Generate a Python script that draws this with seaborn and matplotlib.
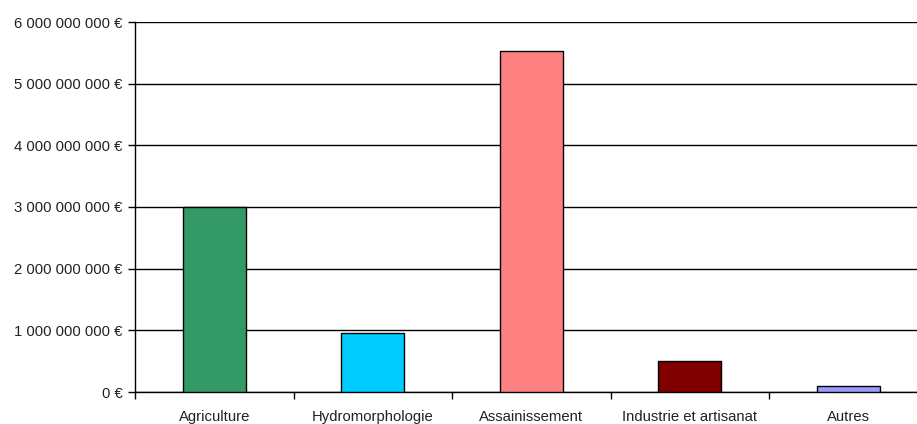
import matplotlib.pyplot as plt
import matplotlib.ticker as mticker
import pandas as pd
import seaborn as sns

categories = ["Agriculture", "Hydromorphologie", "Assainissement", "Industrie et artisanat", "Autres"]
montants = [3.0e9, 0.95e9, 5.53e9, 0.5e9, 0.1e9]
couleurs = ["#339966", "#00CCFF", "#FF8080", "#800000", "#9999FF"]

df = pd.DataFrame({"categorie": categories, "montant": montants})

sns.set_theme(style="white")
plt.rcParams["font.family"] = ["Liberation Sans", "DejaVu Sans"]

fig = plt.figure(figsize=(9.17, 4.24), dpi=100)
ax = fig.add_axes([135 / 917, 32 / 424, 792.5 / 917, 370 / 424])

sns.barplot(data=df, x="categorie", y="montant", hue="categorie", palette=couleurs,
            saturation=1, width=0.4, edgecolor="black", linewidth=1, legend=False,
            ax=ax, zorder=3)

ax.set_xlim(-0.5, 4.5)
ax.set_ylim(0, 6e9)
ax.set_yticks([i * 1e9 for i in range(7)])


def fmt_euro(v, pos):
    return f"{int(round(v)):,} €".replace(",", " ")


ax.yaxis.set_major_formatter(mticker.FuncFormatter(fmt_euro))
ax.yaxis.grid(True, color="black", linewidth=1)
ax.set_axisbelow(True)

# ticks aux frontieres des categories
ax.set_xticks([i - 0.5 for i in range(6)], minor=True)
ax.set_xticks(range(5))
ax.set_xticklabels(categories)
ax.tick_params(axis="x", which="major", length=0, pad=13, labelsize=10.7, labelcolor="#222222")
ax.tick_params(axis="x", which="minor", length=5, width=1, color="black", direction="out", bottom=True)
ax.tick_params(axis="y", length=5, width=1, color="black", direction="out", left=True,
               labelsize=10.7, pad=4, labelcolor="#222222")

for side in ["top", "right"]:
    ax.spines[side].set_visible(False)
for side in ["left", "bottom"]:
    ax.spines[side].set_color("black")
    ax.spines[side].set_linewidth(1)

ax.set_xlabel("")
ax.set_ylabel("")

fig.savefig("out.png", dpi=100)
